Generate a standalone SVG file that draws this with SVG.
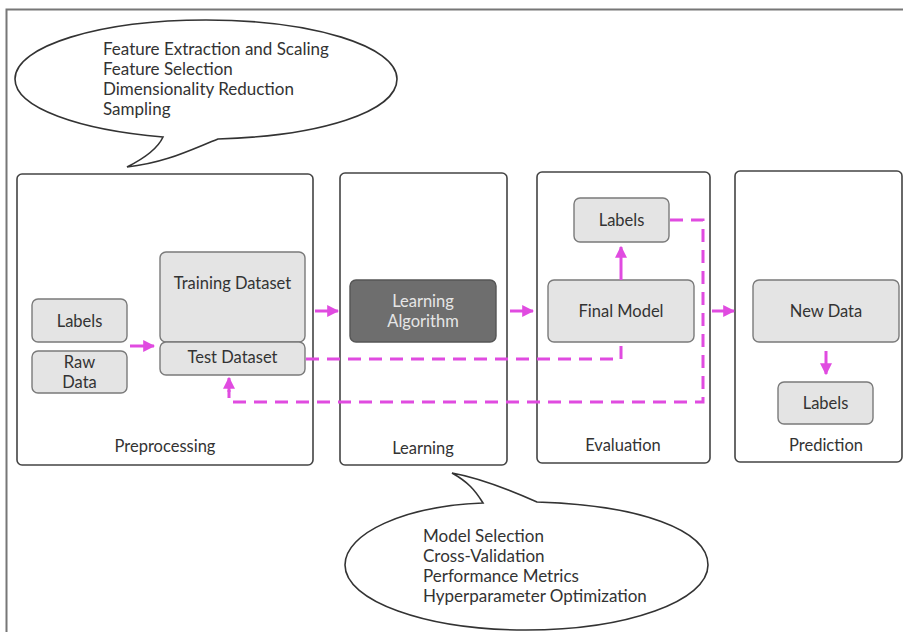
<svg xmlns="http://www.w3.org/2000/svg" width="903" height="632" viewBox="0 0 903 632">
<defs>
<style>
text{font-family:Lato,"Open Sans","Liberation Sans",sans-serif;font-size:16.5px;fill:#333}
.b{font-size:17px}
.stage{fill:#fff;stroke:#444;stroke-width:1.6}
.box{fill:#e4e4e4;stroke:#7a7a7a;stroke-width:1.4}
.dark{fill:#6e6e6e;stroke:#555;stroke-width:1.4}
.c{text-anchor:middle}
.bubble{fill:#fff;stroke:#333;stroke-width:1.6}
.arr{stroke:#e04be0;stroke-width:3;fill:none}
.dash{stroke:#e04be0;stroke-width:3;fill:none;stroke-dasharray:13 8}
</style>
<marker id="ah" viewBox="0 0 10 10" refX="9" refY="5" markerWidth="4" markerHeight="4" orient="auto" markerUnits="strokeWidth">
<path d="M0,0 L10,5 L0,10 Z" fill="#e04be0"/>
</marker>
</defs>
<rect width="903" height="632" fill="#fff"/>
<path d="M6.5,632 V9.5 H903" fill="none" stroke="#777" stroke-width="2"/>

<g id="bubble-preprocessing">
<path class="bubble" d="M163,137 C80,130 15,108 15,79 C15,46 100,20 206,20 C312,20 397,46 397,79 C397,112 320,136 218,139 C190,150 165,163 127,167 C145,158 158,148 163,137 Z"/>
<text class="b" x="103" y="55">Feature Extraction and Scaling</text>
<text class="b" x="103" y="75">Feature Selection</text>
<text class="b" x="103" y="95">Dimensionality Reduction</text>
<text class="b" x="103" y="115">Sampling</text>
</g>

<g id="preprocessing">
<rect class="stage" x="17" y="174" width="296" height="291" rx="5"/>
<text class="c" x="165" y="452">Preprocessing</text>
</g>
<g id="labels-pre">
<rect class="box" x="32" y="299" width="95" height="43" rx="6"/>
<text class="c" x="79.5" y="327">Labels</text>
</g>
<g id="raw-data">
<rect class="box" x="32" y="351" width="95" height="42" rx="6"/>
<text class="c" x="79.5" y="368">Raw</text>
<text class="c" x="79.5" y="388">Data</text>
</g>
<g id="training-dataset">
<rect class="box" x="160" y="252" width="145" height="90" rx="6"/>
<text class="c" x="232.5" y="289">Training Dataset</text>
</g>
<g id="test-dataset">
<rect class="box" x="160" y="342" width="145" height="33" rx="6"/>
<text class="c" x="232.5" y="363">Test Dataset</text>
</g>

<g id="learning">
<rect class="stage" x="340" y="173" width="167" height="292" rx="5"/>
<text class="c" x="423" y="454">Learning</text>
</g>
<g id="learning-algorithm">
<rect class="dark" x="350" y="280" width="146" height="62" rx="6"/>
<text class="c" x="423" y="307" style="fill:#e6e6e6">Learning</text>
<text class="c" x="423" y="327" style="fill:#e6e6e6">Algorithm</text>
</g>

<g id="evaluation">
<rect class="stage" x="537" y="172" width="173" height="291" rx="5"/>
<text class="c" x="623" y="451">Evaluation</text>
</g>
<g id="labels-eval">
<rect class="box" x="574" y="198" width="95" height="44" rx="6"/>
<text class="c" x="621.5" y="226">Labels</text>
</g>
<g id="final-model">
<rect class="box" x="548" y="280" width="146" height="62" rx="6"/>
<text class="c" x="621" y="317">Final Model</text>
</g>

<g id="prediction">
<rect class="stage" x="735" y="171" width="167" height="291" rx="5"/>
<text class="c" x="826" y="451">Prediction</text>
</g>
<g id="new-data">
<rect class="box" x="753" y="280" width="146" height="62" rx="6"/>
<text class="c" x="826" y="317">New Data</text>
</g>
<g id="labels-pred">
<rect class="box" x="778" y="382" width="95" height="42" rx="6"/>
<text class="c" x="825.5" y="409">Labels</text>
</g>

<g id="bubble-learning">
<path class="bubble" d="M483,503 C475,490 468,482 452,473 C480,478 510,490 537,502 C640,505 708,530 708,565 C708,601 627,630 526,630 C426,630 345,601 345,565 C345,533 405,506 483,503 Z"/>
<text class="b" x="423" y="542">Model Selection</text>
<text class="b" x="423" y="562">Cross-Validation</text>
<text class="b" x="423" y="582">Performance Metrics</text>
<text class="b" x="423" y="602">Hyperparameter Optimization</text>
</g>

<g id="connectors">
<line class="arr" x1="130" y1="346" x2="154" y2="346" marker-end="url(#ah)"/>
<line class="arr" x1="315" y1="311" x2="338" y2="311" marker-end="url(#ah)"/>
<line class="arr" x1="510" y1="311" x2="533" y2="311" marker-end="url(#ah)"/>
<line class="arr" x1="712" y1="311" x2="734" y2="311" marker-end="url(#ah)"/>
<line class="arr" x1="621" y1="280" x2="621" y2="247" marker-end="url(#ah)"/>
<line class="arr" x1="826" y1="351" x2="826" y2="374" marker-end="url(#ah)"/>
<path class="dash" d="M306,359 H621 V343"/>
<path class="dash" d="M670,220 H703 V402 H229 V390"/>
<line class="arr" x1="229" y1="392" x2="229" y2="378" marker-end="url(#ah)"/>
</g>
</svg>
